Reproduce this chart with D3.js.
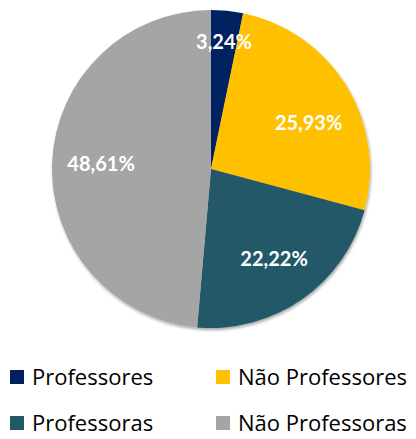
<!DOCTYPE html>
<meta charset="utf-8">
<style>
  body { margin: 0; background: #fff; }
  .label { font: bold 20px Lato, "Open Sans", sans-serif; fill: #fff; text-anchor: middle; }
  .legend text { font: 22px "Open Sans", Lato, sans-serif; fill: #000; }
</style>
<svg width="416" height="439"></svg>
<script src="https://cdn.jsdelivr.net/npm/d3@7"></script>
<script>
  var categories = ["Professores", "Não Professores", "Professoras", "Não Professoras"]
  var values = [3.24, 25.93, 22.22, 48.61]
  var colors = ["#002060", "#FFC000", "#215967", "#A5A5A5"]

  var svg = d3.select("svg"),
    cx = 211, cy = 169, radius = 159

  var defs = svg.append("defs")
  var f = defs.append("filter").attr("id", "shadow").attr("x", "-10%").attr("y", "-10%").attr("width", "120%").attr("height", "120%")
  f.append("feDropShadow").attr("dx", 1).attr("dy", 2).attr("stdDeviation", 1.5).attr("flood-opacity", 0.35)

  var data = categories.map((c, i) => ({ name: c, value: values[i], color: colors[i] }))

  var pie = d3.pie().sort(null).value(d => d.value)
  var arc = d3.arc().innerRadius(0).outerRadius(radius)
  var labelArc = d3.arc().innerRadius(110).outerRadius(110)
  var smallArc = d3.arc().innerRadius(128).outerRadius(128)

  var g = svg.append("g").attr("transform", "translate(" + cx + "," + cy + ")")
  var arcs = pie(data)

  g.append("g").attr("filter", "url(#shadow)")
    .selectAll("path")
    .data(arcs)
    .enter().append("path")
    .attr("d", arc)
    .attr("fill", d => d.data.color)

  g.selectAll("text")
    .data(arcs)
    .enter().append("text")
    .attr("class", "label")
    .attr("transform", d => {
      var c = d.data.value < 5 ? smallArc.centroid(d) : labelArc.centroid(d)
      if (d.index === 1) c = [c[0] + 4, c[1] + 12]
      return "translate(" + c + ")"
    })
    .attr("dy", "0.35em")
    .text(d => d3.format(".2f")(d.data.value).replace(".", ",") + "%")

  var legend = svg.append("g").attr("class", "legend")
    .selectAll("g")
    .data(data)
    .enter().append("g")
    .attr("transform", (d, i) => "translate(" + (10 + (i % 2) * 206) + "," + (370 + Math.floor(i / 2) * 46) + ")")
  legend.append("rect").attr("width", 14).attr("height", 14).attr("fill", d => d.color)
  legend.append("text").attr("x", 22).attr("y", 15).text(d => d.name)
</script>
